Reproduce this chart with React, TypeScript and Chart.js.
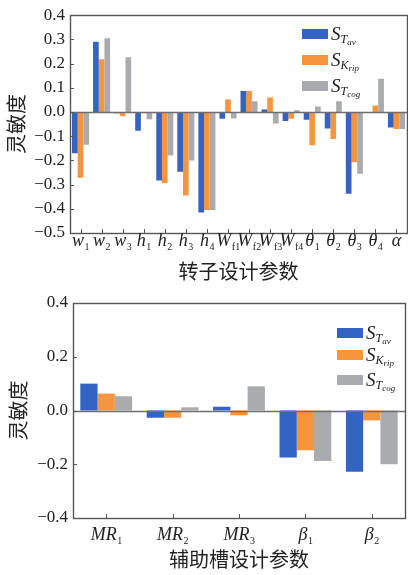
import React, { useEffect, useRef } from 'react';
import { Chart, registerables } from 'chart.js';
Chart.register(...registerables);

// ---------- data ----------
const rotorCategories = ['w1', 'w2', 'w3', 'h1', 'h2', 'h3', 'h4', 'Wf1', 'Wf2', 'Wf3', 'Wf4', 'θ1', 'θ2', 'θ3', 'θ4', 'α'];
const rotorLabelMain = ['w', 'w', 'w', 'h', 'h', 'h', 'h', 'W', 'W', 'W', 'W', 'θ', 'θ', 'θ', 'θ', 'α'];
const rotorLabelSub = ['1', '2', '3', '1', '2', '3', '4', 'f1', 'f2', 'f3', 'f4', '1', '2', '3', '4', ''];
const rotorTav = [-0.17, 0.29, -0.005, -0.077, -0.283, -0.247, -0.415, -0.028, 0.087, 0.01, -0.037, -0.032, -0.068, -0.338, 0.0, -0.064];
const rotorKrip = [-0.272, 0.218, -0.018, -0.004, -0.293, -0.345, -0.405, 0.052, 0.087, 0.06, -0.028, -0.137, -0.112, -0.208, 0.027, -0.07];
const rotorTcog = [-0.135, 0.305, 0.226, -0.03, -0.18, -0.2, -0.405, -0.027, 0.044, -0.048, 0.007, 0.023, 0.044, -0.255, 0.137, -0.07];
const rotorYTicks = [-0.5, -0.4, -0.3, -0.2, -0.1, 0.0, 0.1, 0.2, 0.3, 0.4];

const slotCategories = ['MR1', 'MR2', 'MR3', 'β1', 'β2'];
const slotLabelMain = ['MR', 'MR', 'MR', 'β', 'β'];
const slotLabelSub = ['1', '2', '3', '1', '2'];
const slotTav = [0.1, -0.027, 0.014, -0.175, -0.228];
const slotKrip = [0.063, -0.027, -0.018, -0.148, -0.037];
const slotTcog = [0.053, 0.012, 0.09, -0.188, -0.2];
const slotYTicks = [-0.4, -0.2, 0.0, 0.2, 0.4];

const seriesNames = ['S_Tav', 'S_Krip', 'S_Tcog'];
const legendSub = ['T', 'K', 'T'];
const legendSubSub = ['av', 'rip', 'cog'];
const colors = ['#3563c3', '#f5963f', '#a9abae'];

const SERIF = '"Liberation Serif", "Times New Roman", serif';
const CJK = '"Noto Sans CJK SC", sans-serif';

type PanelProps = {
  width: number;
  height: number;
  categories: string[];
  labelMain: string[];
  labelSub: string[];
  series: number[][];
  yTicks: number[];
  padTop: number;
  padRight: number;
  yWidth: number;
  xHeight: number;
  catPct: number;
  xTitle: string;
  yTitleX: number;
  xTitleY: number;
  labelBaseline: number;
  legendBoxX: number;
  legendYs: number[];
};

function drawSub(ctx: CanvasRenderingContext2D, x: number, y: number, main: string, sub: string, mainSize: number, subSize: number) {
  ctx.font = `italic ${mainSize}px ${SERIF}`;
  const mw = ctx.measureText(main).width;
  ctx.font = `${subSize}px ${SERIF}`;
  const sw = ctx.measureText(sub).width;
  const start = x - (mw + sw) / 2;
  ctx.textAlign = 'left';
  ctx.textBaseline = 'alphabetic';
  ctx.font = `italic ${mainSize}px ${SERIF}`;
  ctx.fillText(main, start, y);
  ctx.font = `${subSize}px ${SERIF}`;
  ctx.fillText(sub, start + mw + 0.5, y + 4);
}

function Panel(p: PanelProps) {
  const ref = useRef<HTMLCanvasElement | null>(null);
  useEffect(() => {
    const canvas = ref.current;
    if (!canvas) return;
    const minV = p.yTicks[0];
    const maxV = p.yTicks[p.yTicks.length - 1];
    const decor = {
      id: 'decor',
      afterDraw(chart: any) {
        const ctx: CanvasRenderingContext2D = chart.ctx;
        const a = chart.chartArea;
        const xs = chart.scales.x;
        const ys = chart.scales.y;
        ctx.save();
        // zero line
        const y0 = Math.round(ys.getPixelForValue(0)) + 0.5;
        ctx.strokeStyle = '#6e6e6e';
        ctx.lineWidth = 1.3;
        ctx.beginPath();
        ctx.moveTo(a.left, y0);
        ctx.lineTo(a.right, y0);
        ctx.stroke();
        // frame
        ctx.strokeStyle = '#555';
        ctx.lineWidth = 1.4;
        ctx.strokeRect(Math.round(a.left) + 0.5, Math.round(a.top) + 0.5, Math.round(a.right - a.left), Math.round(a.bottom - a.top));
        // ticks
        ctx.lineWidth = 1;
        ctx.strokeStyle = '#555';
        p.yTicks.forEach((v) => {
          const yy = Math.round(ys.getPixelForValue(v)) + 0.5;
          ctx.beginPath();
          ctx.moveTo(a.left, yy);
          ctx.lineTo(a.left + 4, yy);
          ctx.stroke();
        });
        p.categories.forEach((_c, i) => {
          const xx = Math.round(xs.getPixelForValue(i)) + 0.5;
          ctx.beginPath();
          ctx.moveTo(xx, a.bottom);
          ctx.lineTo(xx, a.bottom - 4);
          ctx.stroke();
        });
        // x labels
        ctx.fillStyle = '#222';
        p.categories.forEach((_c, i) => {
          const xx = xs.getPixelForValue(i);
          drawSub(ctx, xx, p.labelBaseline, p.labelMain[i], p.labelSub[i], 18, 10);
        });
        // x title
        ctx.font = `20px ${CJK}`;
        ctx.textAlign = 'center';
        ctx.textBaseline = 'middle';
        ctx.fillText(p.xTitle, (a.left + a.right) / 2, p.xTitleY);
        // y title
        ctx.save();
        ctx.translate(p.yTitleX, (a.top + a.bottom) / 2);
        ctx.rotate(-Math.PI / 2);
        ctx.fillText('灵敏度', 0, 0);
        ctx.restore();
        // legend
        seriesNames.forEach((_n, i) => {
          const cy = p.legendYs[i];
          ctx.fillStyle = colors[i];
          ctx.fillRect(p.legendBoxX, cy - 5, 26, 10);
          ctx.fillStyle = '#222';
          ctx.textAlign = 'left';
          ctx.textBaseline = 'alphabetic';
          const tx = p.legendBoxX + 29;
          ctx.font = `italic 19px ${SERIF}`;
          ctx.fillText('S', tx, cy + 6);
          const sw = ctx.measureText('S').width;
          ctx.font = `italic 12px ${SERIF}`;
          ctx.fillText(legendSub[i], tx + sw, cy + 9);
          const tw = ctx.measureText(legendSub[i]).width;
          ctx.font = `italic 9px ${SERIF}`;
          ctx.fillText(legendSubSub[i], tx + sw + tw, cy + 11);
        });
        ctx.restore();
      },
    };
    const chart = new Chart(canvas, {
      type: 'bar',
      data: {
        labels: p.categories,
        datasets: p.series.map((d, i) => ({
          label: seriesNames[i],
          data: d,
          backgroundColor: colors[i],
          borderWidth: 0,
          categoryPercentage: p.catPct,
          barPercentage: 1.0,
        })),
      },
      options: {
        animation: false,
        responsive: false,
        devicePixelRatio: 1,
        layout: { padding: { top: p.padTop, right: p.padRight, left: 0, bottom: 0 } },
        plugins: { legend: { display: false }, tooltip: { enabled: false } },
        scales: {
          x: {
            grid: { display: false, drawTicks: false },
            border: { display: false },
            ticks: { display: false },
            afterFit: (s: any) => { s.height = p.xHeight; },
          },
          y: {
            min: minV,
            max: maxV,
            grid: { display: false, drawTicks: false },
            border: { display: false },
            afterBuildTicks: (s: any) => { s.ticks = p.yTicks.map((v) => ({ value: v })); },
            afterFit: (s: any) => { s.width = p.yWidth; },
            ticks: {
              padding: 5,
              color: '#222',
              font: { family: SERIF, size: 17 },
              callback: (v: any) => {
                const n = Number(v);
                const s = Math.abs(n).toFixed(1);
                return n < -1e-9 ? '\u2212' + s : s;
              },
            },
          },
        },
      },
      plugins: [decor],
    });
    return () => chart.destroy();
  }, []);
  return <canvas ref={ref} width={p.width} height={p.height} style={{ display: 'block', width: p.width, height: p.height }} />;
}

export default function App() {
  return (
    <div style={{ position: 'absolute', left: 0, top: 0, width: 408, height: 575, background: '#fff' }}>
      <Panel
        width={408}
        height={285}
        categories={rotorCategories}
        labelMain={rotorLabelMain}
        labelSub={rotorLabelSub}
        series={[rotorTav, rotorKrip, rotorTcog]}
        yTicks={rotorYTicks}
        padTop={14}
        padRight={1}
        yWidth={70}
        xHeight={52}
        catPct={0.81}
        xTitle="转子设计参数"
        yTitleX={16}
        xTitleY={271}
        labelBaseline={246}
        legendBoxX={302}
        legendYs={[34, 60, 86]}
      />
      <Panel
        width={408}
        height={290}
        categories={slotCategories}
        labelMain={slotLabelMain}
        labelSub={slotLabelSub}
        series={[slotTav, slotKrip, slotTcog]}
        yTicks={slotYTicks}
        padTop={18}
        padRight={3}
        yWidth={73}
        xHeight={57}
        catPct={0.78}
        xTitle="辅助槽设计参数"
        yTitleX={18}
        xTitleY={274}
        labelBaseline={255}
        legendBoxX={337}
        legendYs={[48, 70, 95]}
      />
    </div>
  );
}
